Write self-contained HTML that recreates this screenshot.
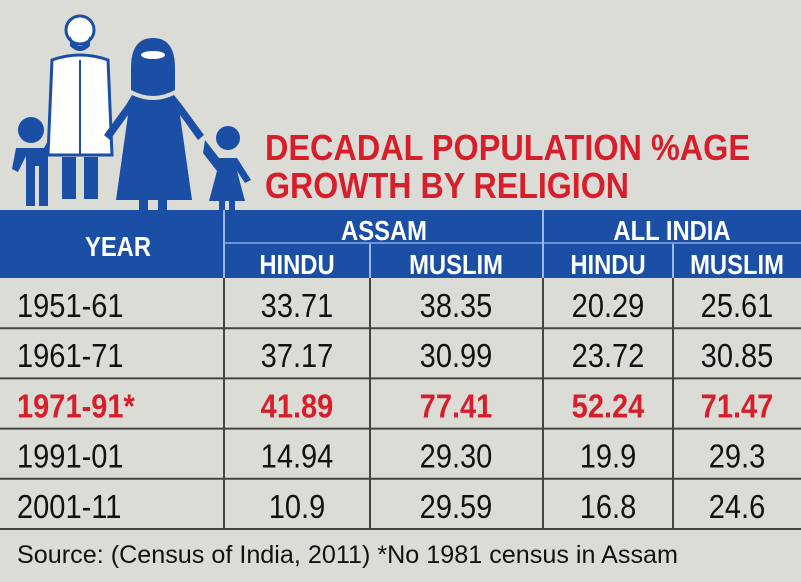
<!DOCTYPE html>
<html><head><meta charset="utf-8"><style>
html,body{margin:0;padding:0;background:#dcdcd7;}
svg{display:block;font-family:"Liberation Sans Narrow","Liberation Sans",sans-serif;}
</style></head><body>
<svg width="801" height="582" viewBox="0 0 801 582" xmlns="http://www.w3.org/2000/svg">
<rect x="0" y="0" width="801" height="582" fill="#dcdcd7"/>
<g fill="#1b4fa6">
 <circle cx="31" cy="130" r="13"/>
 <path d="M16 148 h28 l12 -22 l6 4 l-14 26 v50 h-9 v-40 h-4 v40 h-9 v-50 l-8 16 l-6 -3 z"/>
 <circle cx="80" cy="30" r="14" fill="#fff" stroke="#1b4fa6" stroke-width="3"/>
 <path d="M70 36 q10 20 20 0 v10 q-10 10 -20 0z"/>
 <path d="M52 60 q28 -10 56 0 l4 95 h-64 z" fill="#fff" stroke="#1b4fa6" stroke-width="3"/>
 <line x1="80" y1="60" x2="80" y2="155" stroke="#1b4fa6" stroke-width="2"/>
 <rect x="62" y="157" width="14" height="42"/><rect x="84" y="157" width="14" height="42"/>
 <path d="M153 38 q22 0 22 30 v22 q-22 12 -44 0 v-22 q0 -30 22 -30z"/>
 <ellipse cx="153" cy="55" rx="12" ry="4" fill="#fff"/>
 <path d="M132 95 q21 10 42 0 l8 10 l22 30 l-6 5 l-18 -25 l12 85 h-76 l12 -85 l-18 25 l-6 -5 l22 -30z"/>
 <rect x="139" y="195" width="9" height="16"/><rect x="158" y="195" width="9" height="16"/>
 <circle cx="228" cy="138" r="12"/>
 <path d="M205 140 l14 18 h18 l14 22 l-6 3 l-8 -12 l8 30 h-10 v20 h-6 v-20 h-4 v20 h-6 v-20 h-10 l8 -30 l-14 -18z"/>
</g>
<g fill="#d61f2b" font-weight="bold" font-size="36">
 <text x="265" y="160" textLength="485" lengthAdjust="spacingAndGlyphs">DECADAL POPULATION %AGE</text>
 <text x="265" y="198" textLength="364" lengthAdjust="spacingAndGlyphs">GROWTH BY RELIGION</text>
</g>
<g>
 <rect x="0" y="210" width="801" height="68" fill="#1b4fa6"/>
 <line x1="224" y1="243" x2="801" y2="243" stroke="#6f93d3" stroke-width="2"/>
 <line x1="224" y1="210" x2="224" y2="278" stroke="#9db6e3" stroke-width="2"/>
 <line x1="543" y1="210" x2="543" y2="278" stroke="#9db6e3" stroke-width="2"/>
 <line x1="370" y1="244" x2="370" y2="278" stroke="#9db6e3" stroke-width="2"/>
 <line x1="673" y1="244" x2="673" y2="278" stroke="#9db6e3" stroke-width="2"/>
 <g fill="#fff" font-weight="bold" font-size="28" text-anchor="middle">
  <text transform="translate(118,256) scale(0.85,1)">YEAR</text>
  <text transform="translate(384,240) scale(0.85,1)">ASSAM</text>
  <text transform="translate(672,240) scale(0.85,1)">ALL INDIA</text>
  <text transform="translate(297,274) scale(0.85,1)">HINDU</text>
  <text transform="translate(456,274) scale(0.85,1)">MUSLIM</text>
  <text transform="translate(608,274) scale(0.85,1)">HINDU</text>
  <text transform="translate(737,274) scale(0.85,1)">MUSLIM</text>
 </g>
</g>
<g id="rows"></g>
<text x="17" y="563" font-size="25" fill="#111" textLength="661" lengthAdjust="spacingAndGlyphs">Source: (Census of India, 2011) *No 1981 census in Assam</text>
</svg>
<script>
const years = ["1951-61","1961-71","1971-91*","1991-01","2001-11"];
const assamHindu = ["33.71","37.17","41.89","14.94","10.9"];
const assamMuslim = ["38.35","30.99","77.41","29.30","29.59"];
const indiaHindu = ["20.29","23.72","52.24","19.9","16.8"];
const indiaMuslim = ["25.61","30.85","71.47","29.3","24.6"];
const highlightRow = 2;
const NS = "http://www.w3.org/2000/svg";
const g = document.getElementById("rows");
const top0 = 278, rowH = 50.2;
const cols = [assamHindu, assamMuslim, indiaHindu, indiaMuslim];
const colX = [297, 456, 608, 737];
const colNames = ["assam-hindu","assam-muslim","india-hindu","india-muslim"];
function mk(tag, attrs){const e=document.createElementNS(NS,tag);for(const k in attrs)e.setAttribute(k,attrs[k]);return e;}
for (let i = 0; i < years.length; i++) {
  const yb = top0 + (i+1)*rowH;
  const ln = mk("line",{x1:0,x2:801,y1:yb,y2:yb,stroke:"#444","stroke-width":2});
  
  
  g.appendChild(ln);
  const red = i === highlightRow;
  const base = top0 + i*rowH + 39;
  const yt = mk("text",{transform:"translate(17,"+base+") scale(0.88,1)","font-size":33,fill:red?"#d61f2b":"#111","font-weight":red?"bold":"normal"});
  yt.textContent = years[i];
  
  
  g.appendChild(yt);
  for (let c = 0; c < cols.length; c++) {
    const t = mk("text",{transform:"translate("+colX[c]+","+base+") scale(0.88,1)","font-size":33,"text-anchor":"middle",fill:red?"#d61f2b":"#111","font-weight":red?"bold":"normal"});
    t.textContent = cols[c][i];
    
    
    g.appendChild(t);
  }
}
const bottom = top0 + years.length*rowH;
[224,370,543,673].forEach(x=>{
  const v = mk("line",{x1:x,x2:x,y1:top0,y2:bottom,stroke:"#444","stroke-width":2});
  
  
  g.appendChild(v);
});
</script>
</body></html>
